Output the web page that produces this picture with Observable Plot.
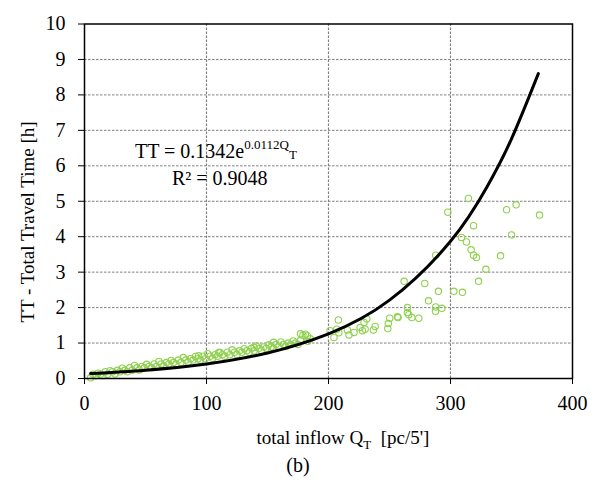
<!DOCTYPE html>
<html>
<head>
<meta charset="utf-8">
<script src="https://cdn.jsdelivr.net/npm/d3@7"></script>
<script src="https://cdn.jsdelivr.net/npm/@observablehq/plot@0.6"></script>
<style>
  html, body { margin: 0; padding: 0; background: #fff; }
  svg text { font-family: "Liberation Serif", "Times New Roman", serif !important; }
</style>
</head>
<body>
<div id="chart"></div>
<script>
// Observed points: total inflow Q_T [pc/5'] and total travel time TT [h]
const obsQ = [
  5,7,9,11,13,15,17,19,21,23,25,27,29,31,33,35,37,39,41,43,45,47,49,51,53,55,57,59,61,63,65,67,69,71,73,75,77,79,
  81,83,85,87,89,91,93,95,97,99,101,103,105,107,109,111,113,115,117,119,121,123,125,127,129,131,133,135,137,139,
  141,143,145,147,149,151,153,155,157,159,161,163,165,167,169,171,173,175,177,179,181,183,185,
  93.5,110,139,155,177,182.7,
  201.3,204.5,206.7,208.1,208.4,215.5,216.8,220.9,225.9,227.8,229.1,230,231.4,236.8,238.2,248.6,249,250.2,256.5,
  257,262,264.7,264.7,265.8,268.3,274,278.9,282,287.9,287.9,287.7,290.1,292.9,297.8,302.7,309,309.8,313.1,314.7,
  316.9,318.9,318.9,321.3,323,329,341,346,350,353.8,373
];
const obsTT = [
  0.02,0.12,0.08,0.15,0.12,0.08,0.19,0.12,0.22,0.19,0.13,0.23,0.19,0.29,0.23,0.19,0.30,0.23,0.37,0.30,0.24,0.34,0.30,0.40,0.34,0.30,0.41,0.34,
  0.48,0.41,0.35,0.45,0.41,0.51,0.45,0.41,0.52,0.45,0.59,0.52,0.46,0.56,0.52,0.62,0.56,0.52,0.63,0.56,0.70,0.63,0.57,0.67,0.63,0.73,0.67,0.63,
  0.74,0.67,0.81,0.74,0.68,0.78,0.74,0.84,0.78,0.74,0.85,0.78,0.92,0.85,0.79,0.89,0.85,0.95,0.89,0.85,0.96,0.89,1.03,0.96,0.90,1.00,0.96,1.06,
  1.00,0.96,1.07,1.22,1.25,1.05,1.12,
  0.64,0.73,0.88,1.02,1.26,1.20,
  1.35,1.16,1.39,1.65,1.29,1.37,1.23,1.30,1.44,1.35,1.58,1.39,1.68,1.37,1.47,1.41,1.55,1.70,1.74,
  1.72,2.74,2.00,1.86,1.80,1.72,1.70,2.68,2.19,3.48,2.02,1.90,2.46,1.98,4.69,2.46,3.98,2.43,3.85,5.08,
  3.63,4.31,3.48,3.41,2.74,3.08,3.46,4.76,4.05,4.90,4.61
];

// Exponential trend line
const trendQ  = [5, 50, 100, 150, 200, 250, 300, 330, 350, 372];
const trendTT = [0.14, 0.235, 0.41, 0.72, 1.26, 2.21, 3.87, 5.41, 6.76, 8.6];

const xTicks = [0, 100, 200, 300, 400];
const yTicks = [0, 1, 2, 3, 4, 5, 6, 7, 8, 9, 10];

const obs = obsQ.map((q, i) => ({q, tt: obsTT[i]}));
const trend = trendQ.map((q, i) => ({q, tt: trendTT[i]}));

const W = 596, H = 486;
const mL = 84, mR = 24, mT = 23.5, mB = 108;
const font = "Liberation Serif, Times New Roman, serif";

const svg = Plot.plot({
  width: W,
  height: H,
  marginLeft: mL,
  marginRight: mR,
  marginTop: mT,
  marginBottom: mB,
  style: {fontFamily: font, fontSize: "20px", color: "black", background: "white"},
  x: {domain: [0, 400], ticks: xTicks, tickSize: 6, tickPadding: 11, label: null},
  y: {domain: [0, 10], ticks: yTicks, tickSize: 6, tickPadding: 13, label: null},
  marks: [
    Plot.gridY(yTicks.filter(d => d > 0 && d < 10), {stroke: "#808080", strokeOpacity: 1, strokeWidth: 1, strokeDasharray: "2.5,1.5"}),
    Plot.gridX(xTicks.filter(d => d > 0 && d < 400), {stroke: "#808080", strokeOpacity: 1, strokeWidth: 1.2, strokeDasharray: "2.5,1.5"}),
    Plot.dot(obs, {x: "q", y: "tt", r: 3.2, stroke: "#8fd14f", strokeWidth: 1.1, fill: "none"}),
    Plot.line(trend, {x: "q", y: "tt", curve: "natural", stroke: "black", strokeWidth: 3}),
    Plot.frame({stroke: "black", strokeWidth: 1.5}),
    Plot.axisX({ticks: xTicks, tickSize: 6, tickPadding: 11, fontSize: 20, fontFamily: font, label: null}),
    Plot.axisY({ticks: yTicks, tickSize: 6, tickPadding: 13, fontSize: 20, fontFamily: font, label: null})
  ]
});

document.getElementById("chart").appendChild(svg);

const s = d3.select(svg);

// Equation
const eq = s.append("text")
  .attr("x", 135).attr("y", 158)
  .attr("text-anchor", "start")
  .attr("font-size", 20).attr("fill", "black");
eq.append("tspan").text("TT = 0.1342e");
eq.append("tspan").attr("font-size", 13).attr("dy", -9).text("0.0112Q");
eq.append("tspan").attr("font-size", 13).attr("dy", 10).text("T");

s.append("text")
  .attr("x", 172).attr("y", 185)
  .attr("text-anchor", "start")
  .attr("font-size", 20).attr("fill", "black")
  .text("R² = 0.9048");

// X axis title
const xt = s.append("text")
  .attr("x", 343).attr("y", 444)
  .attr("text-anchor", "middle")
  .attr("font-size", 19).attr("fill", "black")
  .style("white-space", "pre");
xt.append("tspan").text("total inflow Q");
xt.append("tspan").attr("font-size", 13).attr("dy", 5).text("T");
xt.append("tspan").attr("dy", -5).text("  [pc/5']");

// Panel label
s.append("text")
  .attr("x", 298).attr("y", 472)
  .attr("text-anchor", "middle")
  .attr("font-size", 20).attr("fill", "black")
  .text("(b)");

// Y axis title
s.append("text")
  .attr("transform", "translate(34,222) rotate(-90)")
  .attr("text-anchor", "middle")
  .attr("font-size", 19).attr("fill", "black")
  .text("TT - Total Travel Time [h]");

s.selectAll("text").style("font-family", "'Liberation Serif', 'Times New Roman', serif");
</script>
</body>
</html>
